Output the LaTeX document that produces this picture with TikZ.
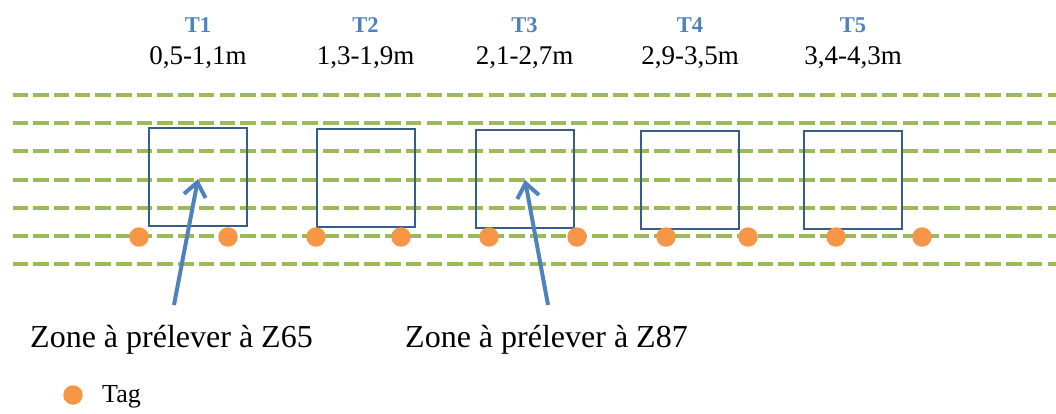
\documentclass[tikz,border=0pt]{standalone}
\usepackage{fontspec}
\setmainfont{Liberation Serif}
\usetikzlibrary{arrows.meta}
\definecolor{rowgreen}{HTML}{9BBB59}
\definecolor{boxblue}{HTML}{385D8A}
\definecolor{arrowblue}{HTML}{4F81BD}
\definecolor{tagorange}{HTML}{F79646}
\definecolor{titleblue}{HTML}{4F81BD}
\tikzset{
  row/.style={draw=rowgreen, line width=4.6pt, dash pattern=on 15.5pt off 5.2pt},
  zonebox/.style={draw=boxblue, line width=1.6pt, minimum width=98pt, minimum height=98pt, inner sep=0pt},
  tagdot/.style={circle, fill=tagorange, minimum size=19.5pt, inner sep=0pt},
  ptr/.style={draw=arrowblue, line width=4pt, -{Straight Barb[length=14pt,width=22pt]}},
  ttl/.style={text=titleblue, font=\fontsize{22.5}{24}\selectfont\bfseries, anchor=base, inner sep=0pt},
  rng/.style={font=\fontsize{27}{30}\selectfont, anchor=base, inner sep=0pt},
  zlbl/.style={font=\fontsize{32}{36}\selectfont, anchor=base west, inner sep=0pt},
  lgd/.style={font=\fontsize{26}{28}\selectfont, anchor=base west, inner sep=0pt}
}
\begin{document}
\begin{tikzpicture}[x=1pt,y=-1pt]
\useasboundingbox (0,0) rectangle (1056,414);
% rows
\foreach \i/\y in {1/95,2/123,3/151,4/180,5/208,6/236,7/264}{
  \coordinate (r\i w) at (12.5,\y);
  \coordinate (r\i e) at (1056,\y);
  \draw[row] (r\i w) -- (r\i e);
}
% boxes
\node[zonebox] (b1) at (198,177) {};
\node[zonebox] (b2) at (366,178) {};
\node[zonebox] (b3) at (525,179) {};
\node[zonebox] (b4) at (690,180) {};
\node[zonebox] (b5) at (853,180) {};
% titles
\foreach \n/\x/\t/\r in {1/198/T1/{0,5-1,1m},2/365.5/T2/{1,3-1,9m},3/524.5/T3/{2,1-2,7m},4/690/T4/{2,9-3,5m},5/853/T5/{3,4-4,3m}}{
  \node[ttl] (t\n) at (\x,33) {\t};
  \node[rng] (m\n) at (\x,65) {\r};
}
% tags
\foreach \n/\x in {1/139,2/228,3/316,4/401,5/489,6/577,7/666,8/748,9/836,10/922}{
  \node[tagdot] (g\n) at (\x,237) {};
}
% arrows
\coordinate (z1s) at (174,305);
\coordinate (z1t) at (198,179);
\coordinate (z2s) at (548,305);
\coordinate (z2t) at (525,180);
\draw[ptr] (z1s) -- (z1t);
\draw[ptr] (z2s) -- (z2t);
% labels
\node[zlbl] (l1) at (30,347) {Zone à prélever à Z65};
\node[zlbl] (l2) at (405,347) {Zone à prélever à Z87};
% legend
\node[tagdot] (lg) at (73,395) {};
\node[lgd] (lt) at (102,402) {Tag};
\end{tikzpicture}
\end{document}
